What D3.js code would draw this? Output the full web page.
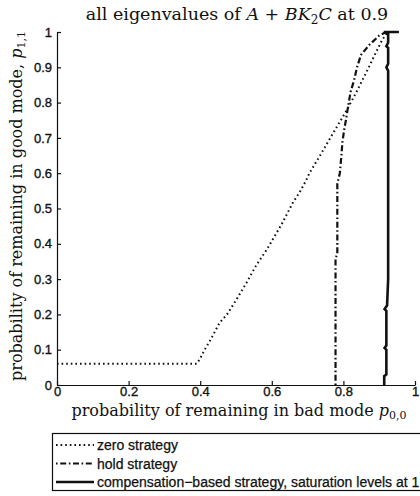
<!DOCTYPE html>
<html>
<head>
<meta charset="utf-8">
<script src="https://cdn.jsdelivr.net/npm/d3@7"></script>
<style>
  body { margin: 0; background: #fff; }
  svg { display: block; }
</style>
</head>
<body>
<div id="chart-area"></div>
<script>
// zero strategy (dotted)
const zeroX = [0, 0.39, 0.40, 0.412, 0.43, 0.454, 0.475, 0.50, 0.529, 0.557, 0.585, 0.613, 0.63, 0.658, 0.68, 0.696, 0.705, 0.733, 0.76, 0.788, 0.81, 0.835, 0.863, 0.89, 0.908, 0.922, 0.93]
const zeroY = [0.06, 0.06, 0.075, 0.099, 0.13, 0.176, 0.20, 0.24, 0.289, 0.34, 0.382, 0.43, 0.46, 0.515, 0.55, 0.58, 0.60, 0.647, 0.694, 0.742, 0.78, 0.827, 0.884, 0.94, 0.977, 0.997, 1]
// hold strategy (dash-dot)
const holdX = [0.778, 0.778, 0.783, 0.783, 0.79, 0.795, 0.797, 0.802, 0.807, 0.813, 0.82, 0.83, 0.838, 0.849, 0.872, 0.90, 0.92]
const holdY = [0, 0.36, 0.37, 0.57, 0.60, 0.657, 0.686, 0.722, 0.75, 0.788, 0.83, 0.864, 0.90, 0.935, 0.963, 0.99, 1]
// compensation-based strategy (solid)
const compX = [0.914, 0.914, 0.92, 0.92, 0.915, 0.92, 0.92, 0.915, 0.922, 0.925, 0.925, 0.92, 0.925, 0.925, 0.92, 0.925, 0.925, 0.913, 0.955]
const compY = [0, 0.025, 0.03, 0.10, 0.105, 0.112, 0.21, 0.215, 0.225, 0.30, 0.89, 0.90, 0.91, 0.955, 0.96, 0.97, 0.995, 1, 1]

const xTicks = [0, 0.2, 0.4, 0.6, 0.8, 1]
const yTicks = [0, 0.1, 0.2, 0.3, 0.4, 0.5, 0.6, 0.7, 0.8, 0.9, 1]

const legendNames = ['zero strategy', 'hold strategy', 'compensation\u2212based strategy, saturation levels at 1']

const W = 420, H = 496
const margin = { left: 57, top: 32 }

let svg = d3.select('#chart-area')
  .append('svg')
  .attr('width', W)
  .attr('height', H)

let g = svg.append('g')
  .attr('transform', `translate(${margin.left}, ${margin.top})`)

let x = d3.scaleLinear().domain([0, 1]).range([0, 358])
let y = d3.scaleLinear().domain([0, 1]).range([353, 0])

const tickFont = '13px "Liberation Sans", Arial, sans-serif'
const serif = '"DejaVu Serif", "Liberation Serif", serif'

// axes, ticks pointing inward
let xAxis = g.append('g')
  .attr('transform', `translate(0, ${y(0)})`)
  .call(d3.axisBottom(x).tickValues(xTicks).tickFormat(d3.format('')).tickSizeInner(-4).tickSizeOuter(0).tickPadding(2))

let yAxis = g.append('g')
  .call(d3.axisLeft(y).tickValues(yTicks).tickFormat(d3.format('')).tickSizeInner(-4).tickSizeOuter(0).tickPadding(5))

g.selectAll('.tick text')
  .style('font', tickFont)
  .attr('fill', '#111')
  .attr('stroke', '#111')
  .attr('stroke-width', 0.35)
g.selectAll('.domain, .tick line').attr('stroke', '#111').attr('stroke-width', 1.2)

let line = d3.line().x(d => x(d[0])).y(d => y(d[1]))

const styles = [
  { dash: '1.6,3', w: 2 },
  { dash: '1.6,2.6,6,2.6', w: 2.2 },
  { dash: null, w: 2.6 }
]

const series = [
  d3.zip(zeroX, zeroY),
  d3.zip(holdX, holdY),
  d3.zip(compX, compY)
]

series.forEach((s, i) => {
  g.append('path')
    .datum(s)
    .attr('d', line)
    .attr('fill', 'none')
    .attr('stroke', '#111')
    .attr('stroke-width', styles[i].w)
    .attr('stroke-dasharray', styles[i].dash)
})

// title
let title = svg.append('text')
  .attr('x', 237)
  .attr('y', 20)
  .attr('text-anchor', 'middle')
  .style('font', `17.5px ${serif}`)
  .attr('fill', '#111')
title.append('tspan').text('all eigenvalues of ')
title.append('tspan').style('font-style', 'italic').text('A')
title.append('tspan').text(' + ')
title.append('tspan').style('font-style', 'italic').text('BK')
title.append('tspan').attr('dy', 4).style('font-size', '12px').text('2')
title.append('tspan').attr('dy', -4).style('font-style', 'italic').text('C')
title.append('tspan').text(' at 0.9')

// x label
let xl = svg.append('text')
  .attr('x', 239)
  .attr('y', 416)
  .attr('text-anchor', 'middle')
  .style('font', `16px ${serif}`)
  .attr('fill', '#111')
xl.append('tspan').text('probability of remaining in bad mode ')
xl.append('tspan').style('font-style', 'italic').text('p')
xl.append('tspan').attr('dy', 3).style('font-size', '11px').text('0,0')

// y label
let yl = svg.append('text')
  .attr('transform', 'translate(22, 206) rotate(-90)')
  .attr('text-anchor', 'middle')
  .style('font', `16px ${serif}`)
  .attr('fill', '#111')
yl.append('tspan').text('probability of remaining in good mode, ')
yl.append('tspan').style('font-style', 'italic').text('p')
yl.append('tspan').attr('dy', 3).style('font-size', '11px').text('1,1')

// legend
let legend = svg.append('g')
legend.append('rect')
  .attr('x', 52.5).attr('y', 433.5)
  .attr('width', 380).attr('height', 57)
  .attr('fill', 'none')
  .attr('stroke', '#111')
  .attr('stroke-width', 1.2)

legendNames.forEach((name, i) => {
  let ly = 445 + i * 18.5
  legend.append('line')
    .attr('x1', 56).attr('x2', 94)
    .attr('y1', ly).attr('y2', ly)
    .attr('stroke', '#111')
    .attr('stroke-width', styles[i].w)
    .attr('stroke-dasharray', styles[i].dash)
  legend.append('text')
    .attr('x', 97).attr('y', ly + 5)
    .style('font', '14px "Liberation Sans", Arial, sans-serif')
    .attr('fill', '#111')
    .attr('stroke', '#111')
    .attr('stroke-width', 0.25)
    .text(name)
})
</script>
</body>
</html>
